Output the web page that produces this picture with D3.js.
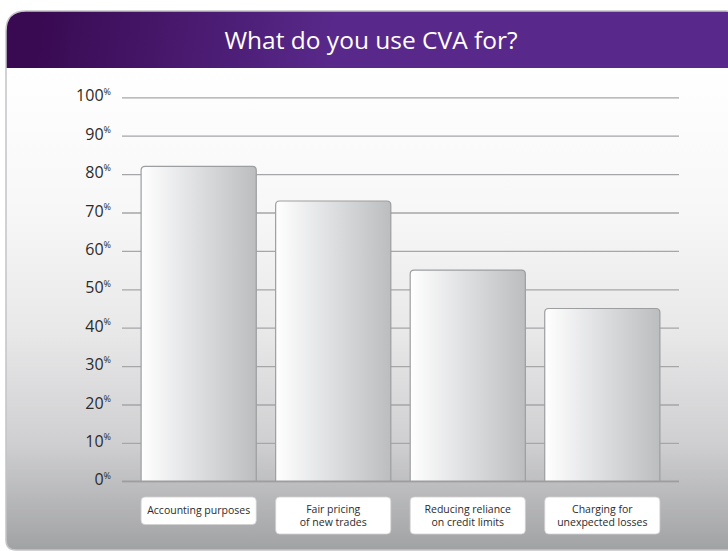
<!DOCTYPE html>
<html lang="en">
<head>
<meta charset="utf-8">
<script src="https://d3js.org/d3.v7.min.js"></script>
<style>
  body { margin: 0; background: #fff; }
  svg { display: block; }
  .yaxis text { font-family: "Open Sans", sans-serif; fill: #2b2b2b; }
  .yaxis line { stroke: #a6a6a8; stroke-width: 1.3px; }
  .cat { font-family: "Open Sans", sans-serif; font-size: 10.5px; fill: #2b2b2b; }
</style>
</head>
<body>
<svg width="728" height="551"></svg>
<script>
// data
var categories = [
  ["Accounting purposes"],
  ["Fair pricing", "of new trades"],
  ["Reducing reliance", "on credit limits"],
  ["Charging for", "unexpected losses"]
];
var values = [82, 73, 55, 45];
var tickValues = [0, 10, 20, 30, 40, 50, 60, 70, 80, 90, 100];
var title = "What do you use CVA for?";

var svg = d3.select("svg");
var defs = svg.append("defs");

// gradients
var bg = defs.append("linearGradient").attr("id", "bg")
  .attr("x1", 0).attr("y1", 0).attr("x2", 0).attr("y2", 1);
[[0, "#ffffff"], [0.3, "#f7f7f7"], [0.55, "#e8e8e9"], [0.78, "#cfcfd1"], [1, "#a1a2a4"]]
  .forEach(function (s) { bg.append("stop").attr("offset", s[0]).attr("stop-color", s[1]); });

var hd = defs.append("linearGradient").attr("id", "hd")
  .attr("gradientUnits", "userSpaceOnUse")
  .attr("x1", 40).attr("y1", 20).attr("x2", 330).attr("y2", 60);
hd.append("stop").attr("offset", 0).attr("stop-color", "#390a52");
hd.append("stop").attr("offset", 1).attr("stop-color", "#58298a");

var barG = defs.append("linearGradient").attr("id", "barg")
  .attr("x1", 0).attr("y1", 0).attr("x2", 1).attr("y2", 0);
barG.append("stop").attr("offset", 0).attr("stop-color", "#ffffff");
barG.append("stop").attr("offset", 0.5).attr("stop-color", "#dddee0");
barG.append("stop").attr("offset", 1).attr("stop-color", "#bcbdbf");

// panel
var L = 6, T = 11, R = 734, B = 550, headB = 68;
var panelPath = "M" + L + "," + (T + 20) + " Q" + L + "," + T + " " + (L + 20) + "," + T +
  " L" + (R - 8) + "," + T + " Q" + R + "," + T + " " + R + "," + (T + 8) +
  " L" + R + "," + B + " L" + (L + 10) + "," + B + " Q" + L + "," + B + " " + L + "," + (B - 10) + " Z";

defs.append("clipPath").attr("id", "panelclip").append("path").attr("d", panelPath);

var panel = svg.append("g").attr("clip-path", "url(#panelclip)");
panel.append("rect").attr("x", L).attr("y", headB).attr("width", R - L).attr("height", B - headB)
  .attr("fill", "url(#bg)");
panel.append("rect").attr("x", L).attr("y", T).attr("width", R - L).attr("height", headB - T)
  .attr("fill", "url(#hd)");
svg.append("path").attr("d", panelPath).attr("fill", "none")
  .attr("stroke", "#c4c4c6").attr("stroke-width", 1.5);

svg.append("text")
  .attr("x", 371).attr("y", 49)
  .attr("text-anchor", "middle")
  .attr("font-family", "'Open Sans', sans-serif")
  .attr("font-size", "24.5px")
  .attr("fill", "#ffffff")
  .text(title);

// scales
var x = d3.scaleBand()
  .domain(d3.range(values.length))
  .range([122, 679])
  .paddingInner(0.144)
  .paddingOuter(0.142);

var y = d3.scaleLinear()
  .domain([0, 100])
  .range([481.3, 97.3]);

// gridlines + labels
var yAxis = d3.axisLeft(y)
  .tickValues(tickValues)
  .tickSize(-(679 - 122))
  .tickPadding(11);

var ag = svg.append("g")
  .attr("class", "yaxis")
  .attr("transform", "translate(122,0)")
  .call(yAxis);
ag.select(".domain").remove();
ag.selectAll(".tick text").each(function (d) {
  var t = d3.select(this).text("").attr("dy", "0.36em");
  t.append("tspan").attr("font-size", "16px").text(d);
  t.append("tspan").attr("font-size", "9px").attr("dy", "-0.75em").text("%");
});

// bars
function barPath(x0, y0, w, h, r) {
  return "M" + x0 + "," + (y0 + h) +
    " L" + x0 + "," + (y0 + r) +
    " Q" + x0 + "," + y0 + " " + (x0 + r) + "," + y0 +
    " L" + (x0 + w - r) + "," + y0 +
    " Q" + (x0 + w) + "," + y0 + " " + (x0 + w) + "," + (y0 + r) +
    " L" + (x0 + w) + "," + (y0 + h);
}

svg.append("g").selectAll("path")
  .data(values)
  .enter()
  .append("path")
  .attr("d", function (d, i) {
    return barPath(x(i), y(d), x.bandwidth(), y(0) - y(d), 4);
  })
  .attr("fill", "url(#barg)")
  .attr("stroke", "#9d9ea0")
  .attr("stroke-width", 1.2);

// baseline
svg.append("line")
  .attr("x1", 122).attr("x2", 679)
  .attr("y1", y(0)).attr("y2", y(0))
  .attr("stroke", "#9d9ea0").attr("stroke-width", 1.5);

// category label boxes
var cat = svg.append("g").selectAll("g")
  .data(categories)
  .enter()
  .append("g");

cat.append("rect")
  .attr("x", function (d, i) { return x(i); })
  .attr("y", 497)
  .attr("width", x.bandwidth())
  .attr("height", function (d) { return d.length > 1 ? 37 : 27.5; })
  .attr("rx", 4)
  .attr("fill", "#ffffff")
  .attr("stroke", "#d0d0d2")
  .attr("stroke-width", 0.8);

cat.each(function (d, i) {
  var t = d3.select(this).append("text")
    .attr("class", "cat")
    .attr("text-anchor", "middle");
  d.forEach(function (line, k) {
    t.append("tspan")
      .attr("x", x(i) + x.bandwidth() / 2)
      .attr("y", 513.5 + k * 12.5 - (d.length > 1 ? 0.5 : 0))
      .text(line);
  });
});
</script>
</body>
</html>
